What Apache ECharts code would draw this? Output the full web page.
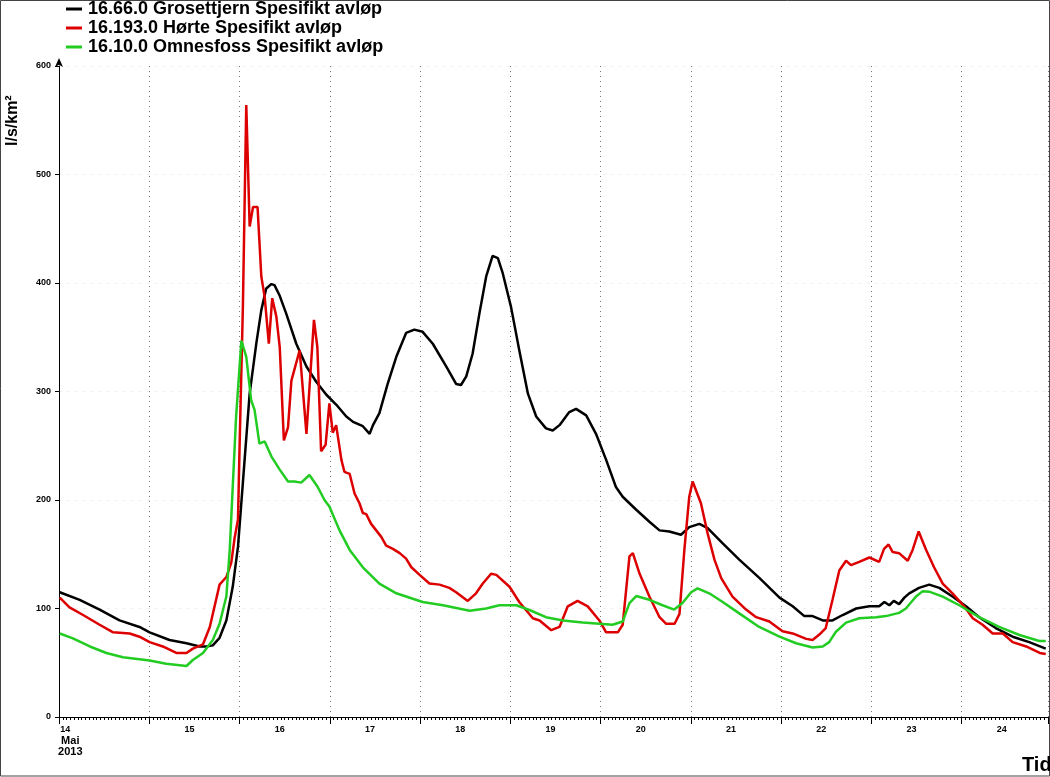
<!DOCTYPE html>
<html>
<head>
<meta charset="utf-8">
<script src="https://cdn.jsdelivr.net/npm/echarts@6/dist/echarts.min.js"></script>
<style>html,body{margin:0;padding:0;background:#fff}#c{width:1050px;height:777px}</style>
</head>
<body>
<div id="c"></div>
<script>
// Hours since 14 May 2013 00:00
const seriesNames = ['16.66.0 Grosettjern Spesifikt avløp', '16.193.0 Hørte Spesifikt avløp', '16.10.0 Omnesfoss Spesifikt avløp'];
const dayLabels = ['14', '15', '16', '17', '18', '19', '20', '21', '22', '23', '24'];
const labelHours = [3, 34.7, 58.7, 82.7, 106.7, 130.7, 154.7, 178.7, 202.7, 226.7, 250.7];
const yTicks = [0, 100, 200, 300, 400, 500, 600];

const grosHours = [0.2, 5.5, 10.8, 16.1, 21.4, 24.1, 29.4, 33.9, 37.4, 39.2, 40.9, 42.7, 44.5, 46.2, 47.6, 48.9, 50.7, 52.5, 53.8, 55.1, 56.5, 57.3, 58.6, 60.4, 63.1, 65.8, 68.4, 71.1, 73.7, 76.4, 78.2, 80.8, 82.6, 83.5, 85.2, 87.4, 89.7, 92.3, 94.5, 96.7, 99.4, 103.0, 105.6, 106.9, 108.3, 110.0, 111.8, 113.6, 115.3, 116.7, 118.0, 120.2, 122.4, 124.7, 126.9, 129.5, 131.3, 133.1, 135.7, 137.5, 140.2, 142.8, 145.5, 148.1, 149.9, 151.7, 153.5, 157.0, 159.7, 162.3, 165.4, 167.6, 170.3, 172.5, 176.5, 180.9, 186.3, 191.6, 195.1, 198.2, 200.4, 203.1, 205.7, 208.4, 212.0, 215.5, 218.1, 219.5, 220.8, 222.0, 223.4, 224.8, 226.1, 228.7, 231.4, 234.1, 237.6, 241.2, 244.7, 249.1, 253.6, 258.0, 262.4];
const grosVals = [115, 108, 99, 89, 83, 78, 71, 68, 65, 65, 66, 73, 89, 120, 157, 216, 298, 345, 375, 395, 399, 398, 389, 372, 344, 323, 309, 297, 288, 277, 272, 268, 261, 269, 280, 307, 332, 354, 357, 355, 344, 323, 307, 306, 314, 335, 372, 406, 425, 423, 409, 378, 338, 298, 277, 266, 264, 269, 281, 284, 278, 261, 237, 212, 203, 197, 191, 180, 172, 171, 168, 175, 178, 174, 160, 145, 128, 110, 102, 93, 93, 89, 89, 94, 100, 102, 102, 106, 103, 107, 104, 110, 114, 119, 122, 119, 111, 102, 92, 82, 74, 69, 63];

const horteHours = [0.2, 2.8, 6.4, 10.8, 14.4, 18.8, 21.4, 24.1, 27.6, 31.2, 33.9, 35.6, 38.3, 40.1, 42.7, 44.5, 45.8, 46.7, 47.6, 48.0, 48.9, 49.8, 50.7, 51.6, 52.8, 53.8, 54.7, 55.8, 56.7, 57.8, 58.7, 59.8, 60.9, 61.8, 64.0, 65.8, 67.8, 68.7, 69.7, 70.9, 71.9, 72.8, 73.7, 75.1, 75.9, 77.3, 78.6, 79.9, 80.8, 81.7, 83.0, 85.7, 87.0, 88.8, 90.6, 92.3, 93.7, 95.9, 98.5, 101.2, 103.8, 105.6, 108.7, 110.9, 112.7, 114.9, 116.3, 119.8, 122.4, 126.0, 127.8, 130.9, 133.1, 135.3, 137.9, 140.6, 143.7, 145.5, 148.6, 149.9, 151.7, 152.6, 154.4, 157.0, 159.7, 161.4, 163.7, 165.0, 166.3, 167.6, 168.5, 170.7, 172.5, 174.3, 176.1, 179.1, 182.7, 185.4, 188.9, 192.4, 195.1, 198.7, 200.4, 202.2, 203.9, 205.7, 207.5, 209.3, 210.6, 212.8, 215.5, 218.1, 219.4, 220.6, 221.7, 223.4, 225.7, 227.0, 228.6, 230.6, 232.7, 235.0, 237.6, 240.7, 243.0, 245.6, 248.3, 251.0, 253.6, 257.2, 260.8, 262.4];
const horteVals = [110, 101, 94, 85, 78, 77, 74, 69, 65, 59, 59, 63, 67, 83, 122, 129, 142, 165, 182, 246, 378, 564, 452, 470, 470, 406, 387, 344, 386, 369, 341, 255, 267, 310, 338, 261, 366, 341, 245, 251, 289, 262, 269, 237, 226, 224, 206, 197, 188, 187, 178, 166, 158, 155, 151, 146, 138, 131, 123, 122, 119, 115, 107, 114, 123, 132, 131, 120, 106, 91, 89, 80, 83, 102, 107, 102, 89, 78, 78, 85, 148, 151, 132, 111, 92, 86, 86, 95, 154, 203, 217, 197, 169, 145, 128, 111, 99, 92, 88, 79, 77, 72, 71, 76, 82, 108, 135, 144, 140, 143, 147, 143, 155, 159, 152, 151, 144, 154, 171, 154, 138, 123, 114, 102, 91, 85, 77, 77, 69, 65, 59, 58];

const omnHours = [0.2, 3.7, 8.2, 12.6, 17.0, 24.1, 28.5, 33.9, 35.6, 38.3, 40.9, 42.7, 44.5, 45.4, 47.1, 48.5, 49.8, 51.1, 52.0, 53.3, 54.7, 56.5, 58.7, 60.9, 62.6, 64.4, 66.6, 68.8, 70.6, 71.9, 74.6, 77.3, 80.8, 85.2, 89.7, 96.7, 102.1, 109.2, 113.6, 117.1, 121.6, 125.1, 129.5, 134.0, 139.3, 143.7, 147.2, 149.9, 151.7, 153.5, 157.0, 160.5, 163.6, 165.8, 168.1, 169.8, 172.9, 176.5, 180.9, 186.2, 191.6, 196.0, 200.4, 203.1, 204.8, 206.6, 209.3, 212.8, 217.3, 219.9, 223.4, 225.2, 227.9, 229.7, 231.4, 235.0, 239.4, 244.7, 250.0, 255.4, 260.7, 262.4];
const omnVals = [77, 72.5, 65, 59, 55, 52, 49, 47, 52.5, 59, 71, 86, 111, 154, 277, 347, 332, 292, 283, 252, 254, 240, 228, 217, 217, 216, 223, 212, 200, 194, 172, 154, 138, 123, 114, 106, 103, 98, 100, 103, 103, 98.6, 92, 89, 87, 86, 85, 88, 105, 111.5, 108, 103, 99, 105, 115, 118.6, 114, 106, 95.5, 83, 74, 68, 64, 65, 69, 78.6, 87, 91, 92, 93, 96, 100, 111, 116, 115.5, 111, 103, 92, 83, 75.6, 70, 70];

function pairs(h, v) { return h.map((x, i) => [x, v[i]]); }

const chart = echarts.init(document.getElementById('c'), null, { renderer: 'canvas' });
const colors = ['#000000', '#dd0000', '#22cc22'];
const FONT = 'Liberation Sans, Arial, sans-serif';
const mk = (name, h, v, c) => ({
  name, type: 'line', data: pairs(h, v), showSymbol: false, symbol: 'none',
  lineStyle: { color: c, width: 2.5 }, itemStyle: { color: c }, animation: false
});

chart.setOption({
  animation: false,
  backgroundColor: '#fff',
  color: colors,
  legend: {
    orient: 'vertical', left: 61, top: -5, itemWidth: 16, itemHeight: 3, itemGap: 1,
    icon: 'rect', selectedMode: false,
    textStyle: { fontFamily: FONT, fontSize: 18, fontWeight: 'bold', color: '#000', padding: [0, 0, 0, 1] },
    data: seriesNames
  },
  grid: { left: 59, right: 2, top: 66, bottom: 60, containLabel: false },
  xAxis: {
    type: 'value', min: 0, max: 263, interval: 24,
    axisLine: { show: true, onZero: false, lineStyle: { color: '#000', width: 1 } },
    axisTick: { show: true, length: 7, lineStyle: { color: '#000' } },
    minorTick: { show: true, splitNumber: 24, length: 3, lineStyle: { color: '#000' } },
    splitLine: { show: true, lineStyle: { color: '#777', type: [1, 4], width: 1 } },
    axisLabel: {
      customValues: labelHours, margin: 7,
      fontFamily: FONT, fontSize: 9, fontWeight: 'bold', color: '#000', lineHeight: 11,
      formatter: function (v) {
        const d = dayLabels[Math.floor(v / 24)];
        return d === '14' ? '{a|14}\n{b|Mai}\n{b|2013}' : d;
      },
      rich: { a: { fontSize: 9, fontWeight: 'bold', lineHeight: 11, padding: [0, 10, 0, 0] }, b: { fontSize: 11, fontWeight: 'bold', lineHeight: 11 } }
    }
  },
  yAxis: {
    type: 'value', min: 0, max: 600, interval: 100,
    axisLine: { show: true, lineStyle: { color: '#000', width: 1 }, symbol: ['none', 'arrow'], symbolSize: [6, 9], symbolOffset: [0, 8] },
    axisTick: { show: true, length: 4, lineStyle: { color: '#000' } },
    splitLine: { show: true, lineStyle: { color: '#f0f0f0', type: [3, 5], width: 1 } },
    axisLabel: { margin: 8, fontFamily: FONT, fontSize: 9, fontWeight: 'bold', color: '#000',
      formatter: v => yTicks.indexOf(v) >= 0 ? String(v) : '' }
  },
  graphic: [
    { type: 'rect', shape: { x: 0.5, y: 0.5, width: 1049, height: 775.5 }, style: { fill: 'none', stroke: '#444', lineWidth: 1 }, silent: true },
    { type: 'text', x: 5, y: 146, rotation: Math.PI / 2, style: { text: 'l/s/km²', fontFamily: FONT, fontSize: 16, fontWeight: 'bold', fill: '#000', textAlign: 'left', textVerticalAlign: 'top' } },
    { type: 'text', left: 1022, top: 755, style: { text: 'Tid', fontFamily: FONT, fontSize: 20, fontWeight: 'bold', fill: '#000' } }
  ],
  series: [
    mk(seriesNames[0], grosHours, grosVals, colors[0]),
    mk(seriesNames[1], horteHours, horteVals, colors[1]),
    mk(seriesNames[2], omnHours, omnVals, colors[2])
  ]
});
</script>
</body>
</html>
